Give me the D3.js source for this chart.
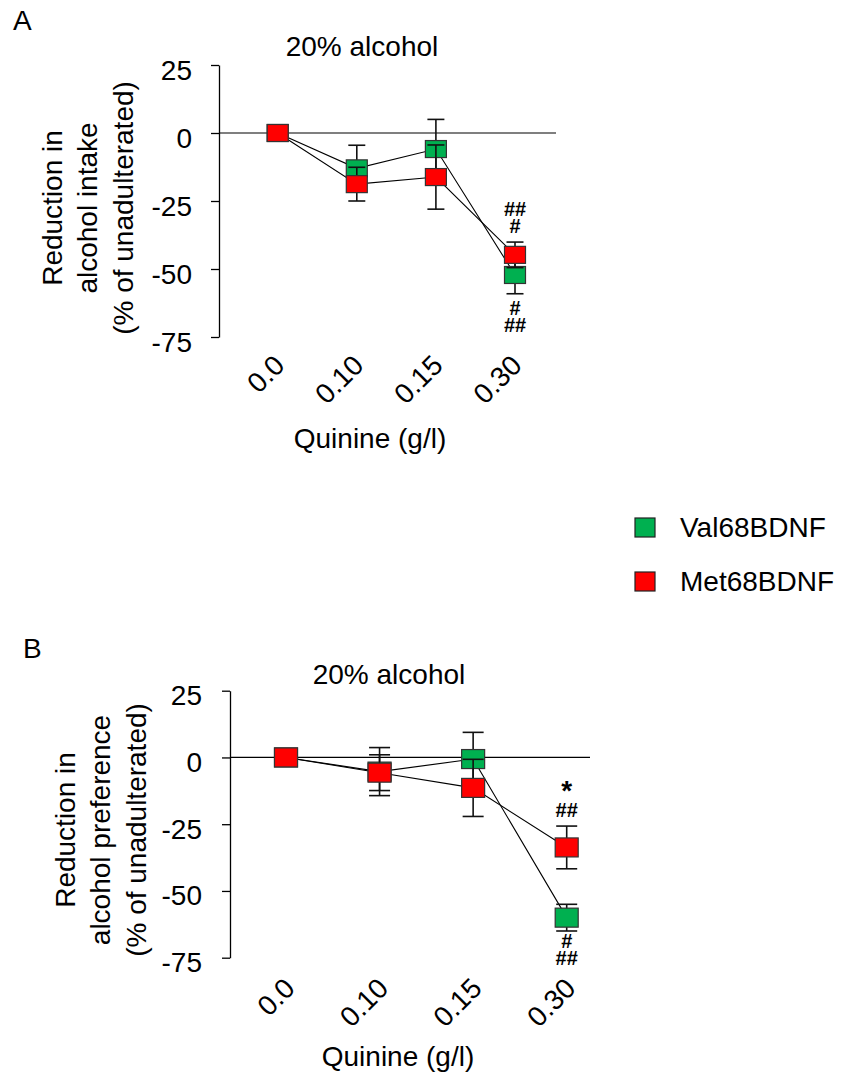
<!DOCTYPE html>
<html>
<head>
<meta charset="utf-8">
<title>Quinine adulteration - Val68BDNF vs Met68BDNF</title>
<script src="https://cdn.jsdelivr.net/npm/d3@7"></script>
<style>
  body { margin: 0; background: #fff; }
  svg text { font-family: "Liberation Sans", Arial, sans-serif; fill: #000; }
</style>
</head>
<body>
<svg id="fig" width="844" height="1080"></svg>
<script>
// quinine concentrations (g/l)
var doses = ["0.0", "0.10", "0.15", "0.30"];
var yTicks = [25, 0, -25, -50, -75];
var seriesNames = ["Val68BDNF", "Met68BDNF"];
var seriesColors = ["#00b050", "#ff0000"];

// panel A: reduction in alcohol intake (% of unadulterated)
var valIntake = [0, -13.0, -5.9, -52.2];
var valIntakeSE = [0, 8.5, 10.9, 6.9];
var metIntake = [0, -18.8, -16.2, -44.8];
var metIntakeSE = [0, 6.2, 11.8, 4.7];

// panel B: reduction in alcohol preference (% of unadulterated)
var valPref = [0, -5.3, -0.6, -60.0];
var valPrefSE = [0, 9.0, 10.0, 5.0];
var metPref = [0, -5.7, -11.4, -33.7];
var metPrefSE = [0, 6.7, 10.7, 8.0];

var svg = d3.select("#fig");

function drawPanel(p) {
  var g = svg.append("g");
  var x = d3.scalePoint().domain(doses).range([p.x0, p.x1]);
  var y = d3.scaleLinear().domain([-75, 25]).range([p.yBottom, p.yTop]);

  // panel letter + title
  g.append("text").attr("x", p.letterX).attr("y", p.letterY)
    .style("font-size", "28px").text(p.letter);
  g.append("text").attr("x", p.titleX).attr("y", p.titleY)
    .attr("text-anchor", "middle").style("font-size", "28px").text("20% alcohol");

  // y axis (plain hyphen for negatives, like the original)
  var ya = g.append("g").attr("transform", "translate(" + p.axisX + ",0)")
    .call(d3.axisLeft(y).tickValues(yTicks).tickSize(8).tickSizeOuter(0)
      .tickPadding(p.pad).tickFormat(function (d) { return String(d); }));
  ya.selectAll("path, line").attr("stroke", "#000").attr("stroke-width", 1.3);
  ya.selectAll("text").style("font-size", "28px")
    .style("font-family", '"Liberation Sans", Arial, sans-serif')
    .attr("dy", "0.5em");

  // zero reference line
  g.append("line").attr("x1", p.axisX).attr("x2", p.lineEnd)
    .attr("y1", y(0)).attr("y2", y(0))
    .attr("stroke", "#000").attr("stroke-width", 1.2);

  // y label (three lines)
  var yl = g.append("text")
    .attr("transform", "translate(" + p.labelX + "," + p.labelY + ") rotate(-90)")
    .attr("text-anchor", "middle").style("font-size", "28px");
  p.ylabel.forEach(function (s, i) {
    yl.append("tspan").attr("x", 0).attr("y", i * 35.3).text(s);
  });

  // x tick labels, rotated
  var xa = g.append("g").attr("transform", "translate(0," + p.xlabY + ")")
    .call(d3.axisBottom(x).tickSize(0).tickPadding(0));
  xa.select(".domain").remove();
  xa.selectAll("text").style("font-size", "28px")
    .style("font-family", '"Liberation Sans", Arial, sans-serif')
    .attr("text-anchor", "end").attr("dy", 0).attr("y", 0)
    .attr("x", 0)
    .attr("transform", "translate(" + p.xlabDx + ",0) rotate(-45)");

  g.append("text").attr("x", p.qX).attr("y", p.qY)
    .attr("text-anchor", "middle").style("font-size", "28px").text("Quinine (g/l)");

  var series = [
    { vals: p.val, se: p.valSE, color: seriesColors[0] },
    { vals: p.met, se: p.metSE, color: seriesColors[1] }
  ];

  // connecting lines behind everything
  var line = d3.line().x(function (d, i) { return x(doses[i]); }).y(function (d) { return y(d); });
  series.forEach(function (s) {
    g.append("path").datum(s.vals).attr("d", line)
      .attr("fill", "none").attr("stroke", "#000").attr("stroke-width", 1.1);
  });

  // error bars then markers, series by series
  series.forEach(function (s) {
    var eb = g.append("g");
    s.vals.forEach(function (v, i) {
      if (!s.se[i]) return;
      var cx = x(doses[i]);
      eb.append("line").attr("x1", cx).attr("x2", cx)
        .attr("y1", y(v - s.se[i])).attr("y2", y(v + s.se[i]));
      [v - s.se[i], v + s.se[i]].forEach(function (e) {
        eb.append("line").attr("x1", cx - p.cap / 2).attr("x2", cx + p.cap / 2)
          .attr("y1", y(e)).attr("y2", y(e));
      });
    });
    eb.selectAll("line").attr("stroke", "#111").attr("stroke-width", 1.6);
    g.append("g").selectAll("rect").data(s.vals).join("rect")
      .attr("x", function (d, i) { return x(doses[i]) - p.mw / 2; })
      .attr("y", function (d) { return y(d) - p.mh / 2; })
      .attr("width", p.mw).attr("height", p.mh)
      .attr("fill", s.color).attr("stroke", "#333").attr("stroke-width", 1.2);
  });

  // significance marks at 0.30
  p.marks.forEach(function (m) {
    g.append("text").attr("x", x(doses[3])).attr("y", m.y)
      .attr("text-anchor", "middle").style("font-weight", "bold")
      .style("font-size", m.size + "px").text(m.t);
  });
}

drawPanel({
  letter: "A", letterX: 13, letterY: 30, titleX: 362, titleY: 56,
  x0: 277.7, x1: 515, yTop: 65, yBottom: 337, axisX: 219, pad: 19, lineEnd: 556,
  labelX: 62, labelY: 208, ylabel: ["Reduction in", "alcohol intake", "(% of unadulterated)"],
  xlabY: 367, xlabDx: 8, qX: 370, qY: 448,
  val: valIntake, valSE: valIntakeSE, met: metIntake, metSE: metIntakeSE,
  mw: 21, mh: 17, cap: 17,
  marks: [{ t: "##", y: 216, size: 20 }, { t: "#", y: 233, size: 20 },
          { t: "#", y: 315, size: 20 }, { t: "##", y: 332, size: 20 }]
});

drawPanel({
  letter: "B", letterX: 23, letterY: 658, titleX: 389, titleY: 684,
  x0: 286, x1: 566.7, yTop: 690.7, yBottom: 957.7, axisX: 230, pad: 20, lineEnd: 590,
  labelX: 75, labelY: 830, ylabel: ["Reduction in", "alcohol preference", "(% of unadulterated)"],
  xlabY: 990, xlabDx: 10, qX: 398, qY: 1066,
  val: valPref, valSE: valPrefSE, met: metPref, metSE: metPrefSE,
  mw: 23, mh: 19, cap: 21,
  marks: [{ t: "*", y: 800, size: 28 }, { t: "##", y: 817, size: 20 },
          { t: "#", y: 948, size: 20 }, { t: "##", y: 965, size: 20 }]
});

// legend
var legend = svg.append("g").selectAll("g").data(seriesNames).join("g")
  .attr("transform", function (d, i) { return "translate(635," + (518 + i * 54) + ")"; });
legend.append("rect").attr("width", 20).attr("height", 19)
  .attr("fill", function (d, i) { return seriesColors[i]; })
  .attr("stroke", "#222").attr("stroke-width", 1.2);
legend.append("text").attr("x", 45).attr("y", 19)
  .style("font-size", "28px").text(function (d) { return d; });
</script>
</body>
</html>
